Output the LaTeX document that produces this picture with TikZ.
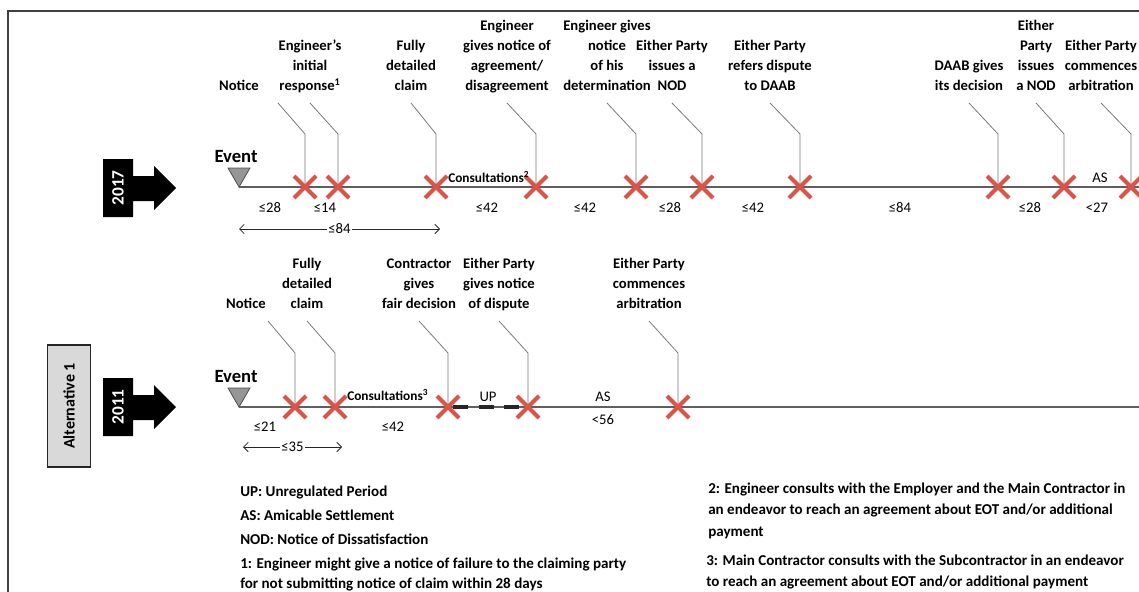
\documentclass[tikz,border=0pt]{standalone}
\usepackage{fontspec}
\setmainfont{Carlito}
\usetikzlibrary{arrows.meta}
\definecolor{xred}{RGB}{219,84,72}
\definecolor{leadc}{RGB}{120,120,120}
\definecolor{tlinec}{RGB}{95,95,95}
\definecolor{altgray}{RGB}{217,217,217}
\definecolor{evgray}{RGB}{150,150,150}

\begin{document}
\begin{tikzpicture}[x=0.75pt,y=-0.75pt,
  lab/.style={font=\bfseries\fontsize{11}{15}\selectfont, align=center, anchor=south,
    inner xsep=0pt, inner ysep=4.5pt, execute at end node=\strut},
  leader/.style={draw=leadc, line width=0.6pt},
  tline/.style={draw=tlinec, line width=1.1pt},
  xm/.style={draw=xred, line width=3pt},
  num/.style={font=\fontsize{11}{12}\selectfont, inner sep=0pt},
  cons/.style={font=\bfseries\fontsize{10}{12}\selectfont, inner sep=0pt, anchor=base west},
  evtxt/.style={font=\bfseries\fontsize{14}{16}\selectfont, inner sep=0pt},
  evtri/.style={fill=evgray, draw=black!70, line width=0.6pt},
  spanarrow/.style={draw=black!85, line width=0.6pt,
    {Straight Barb[length=3.5pt,width=7pt]}-{Straight Barb[length=3.5pt,width=7pt]}},
  rangelab/.style={font=\fontsize{11}{12}\selectfont, fill=white, inner sep=1pt},
  yeartxt/.style={font=\bfseries\fontsize{13}{13}\selectfont, text=white, rotate=90, inner sep=0pt},
  legend/.style={font=\bfseries\fontsize{11.3}{13}\selectfont, anchor=base west, inner sep=0pt},
  frame/.style={draw=black!75, line width=0.8pt},
  updash/.style={draw=black!85, line width=2.6pt, dash pattern=on 11.25pt off 8pt},
]
\useasboundingbox (0,0) rectangle (1139,592);

% frame (top and left edges)
\coordinate (fbl) at (8,592);
\coordinate (ftl) at (8,11);
\coordinate (ftr) at (1139,11);
\draw[frame] (fbl) -- (ftl) -- (ftr);

% alternative box
\node[draw=black!85, fill=altgray, line width=0.8pt, rotate=90, minimum width=122*0.75pt,
      minimum height=43*0.75pt, inner sep=0pt, font=\bfseries\fontsize{12}{12}\selectfont]
      (alt) at (69,406) {Alternative 1};

% year arrows
\foreach \dy in {0,219} {
  \begin{scope}[shift={(0,\dy)}]
    \fill[black] (103,159) -- (133,159) -- (133,176) -- (154,176) -- (154,166) -- (176,188)
      -- (154,210) -- (154,201) -- (133,201) -- (133,217) -- (103,217) -- cycle;
  \end{scope}
}
\node[yeartxt] (yr17) at (118,188) {2017};
\node[yeartxt] (yr11) at (118,407) {2011};

% ---------------- 2017 timeline ----------------
\coordinate (e17) at (239,187);
\coordinate (end17) at (1139,187);
\foreach \n/\x in {a1/305,a2/338,a3/436,a4/536,a5/636,a6/702,a7/800,a8/998,a9/1064,a10/1131} {
  \coordinate (\n) at (\x,187);
  \coordinate (b\n) at (\x,134);
}
\coordinate (ta1) at (278,103);

\node[lab] (la1) at (239,103) {Notice};
\node[lab] (la2) at (310,103) {Engineer’s\\initial\\response\textsuperscript{1}};
\node[lab] (la3) at (411,103) {Fully\\detailed\\claim};
\node[lab] (la4) at (507,103) {Engineer\\gives notice of\\agreement/\\disagreement};
\node[lab] (la5) at (607,103) {Engineer gives\\notice\\of his\\determination};
\node[lab] (la6) at (672,103) {Either Party\\issues a\\NOD};
\node[lab] (la7) at (770,103) {Either Party\\refers dispute\\to DAAB};
\node[lab] (la8) at (969,103) {DAAB gives\\its decision};
\node[lab] (la9) at (1036,103) {Either\\Party\\issues\\a NOD};
\node[lab] (la10) at (1101,103) {Either Party\\commences\\arbitration};

\draw[leader] (ta1) -- (ba1) -- (a1);
\foreach \i in {2,...,10} {
  \draw[leader] (la\i.south) -- (ba\i) -- (a\i);
}

\draw[tline] (e17) -- (end17);
\node[evtxt] (ev17) at (236,157) {Event};
\draw[evtri] (228,168) -- (250,168) -- (e17) -- cycle;

\foreach \n in {a1,a2,a3,a4,a5,a6,a7,a8,a9,a10} {
  \draw[xm] ([shift={(-11,-11)}]\n) -- ([shift={(11,11)}]\n);
  \draw[xm] ([shift={(-11,11)}]\n) -- ([shift={(11,-11)}]\n);
}

\node[cons] (cons17) at (448,182) {Consultations\textsuperscript{2}};
\node[num] (as17) at (1100,178) {AS};
\node[num] (n171) at (270,208) {≤28};
\node[num] (n172) at (325,208) {≤14};
\node[num] (n173) at (487,208) {≤42};
\node[num] (n174) at (585,208) {≤42};
\node[num] (n175) at (670,208) {≤28};
\node[num] (n176) at (753,208) {≤42};
\node[num] (n177) at (900,208) {≤84};
\node[num] (n178) at (1030,208) {≤28};
\node[num] (n179) at (1097,208) {<27};

\coordinate (r17a) at (239,229);
\coordinate (r17b) at (440,229);
\draw[spanarrow] (r17a) -- node[rangelab] (r17l) {≤84} (r17b);

% ---------------- 2011 timeline ----------------
\coordinate (e11) at (239,407);
\coordinate (end11) at (1139,407);
\foreach \n/\x in {c1/295,c2/335,c3/448,c4/528,c5/678} {
  \coordinate (\n) at (\x,407);
  \coordinate (b\n) at (\x,353);
}
\coordinate (tc1) at (268,321);
\coordinate (up1) at (453,407);
\coordinate (up2) at (523,407);

\node[lab] (lc1) at (246,321) {Notice};
\node[lab] (lc2) at (307,321) {Fully\\detailed\\claim};
\node[lab] (lc3) at (419,321) {Contractor\\gives\\fair decision};
\node[lab] (lc4) at (499,321) {Either Party\\gives notice\\of dispute};
\node[lab] (lc5) at (649,321) {Either Party\\commences\\arbitration};

\draw[leader] (tc1) -- (bc1) -- (c1);
\foreach \i in {2,...,5} {
  \draw[leader] (lc\i.south) -- (bc\i) -- (c\i);
}

\draw[tline] (e11) -- (end11);
\draw[updash] (up1) -- (up2);
\node[evtxt] (ev11) at (236,377) {Event};
\draw[evtri] (228,388) -- (250,388) -- (e11) -- cycle;

\foreach \n in {c1,c2,c3,c4,c5} {
  \draw[xm] ([shift={(-11,-11)}]\n) -- ([shift={(11,11)}]\n);
  \draw[xm] ([shift={(-11,11)}]\n) -- ([shift={(11,-11)}]\n);
}

\node[cons] (cons11) at (347,400) {Consultations\textsuperscript{3}};
\node[num] (up11) at (488,397) {UP};
\node[num] (as11) at (603,397) {AS};
\node[num] (n111) at (265,427) {≤21};
\node[num] (n112) at (393,427) {≤42};
\node[num] (n113) at (603,420) {<56};

\coordinate (r11a) at (243,447);
\coordinate (r11b) at (342,447);
\draw[spanarrow] (r11a) -- node[rangelab] (r11l) {≤35} (r11b);

% ---------------- legend ----------------
\node[legend] (lg1) at (240,496) {UP: Unregulated Period};
\node[legend] (lg2) at (240,520) {AS: Amicable Settlement};
\node[legend] (lg3) at (240,544) {NOD: Notice of Dissatisfaction};
\node[legend] (lg4) at (240,568) {1: Engineer might give a notice of failure to the claiming party};
\node[legend] (lg5) at (240,588) {for not submitting notice of claim within 28 days};

\node[legend] (lg6) at (708,493) {2: Engineer consults with the Employer and the Main Contractor in};
\node[legend] (lg7) at (708,514) {an endeavor to reach an agreement about EOT and/or additional};
\node[legend] (lg8) at (708,536) {payment};
\node[legend] (lg9) at (706,565) {3: Main Contractor consults with the Subcontractor in an endeavor};
\node[legend] (lg10) at (706,586) {to reach an agreement about EOT and/or additional payment};
\end{tikzpicture}
\end{document}
